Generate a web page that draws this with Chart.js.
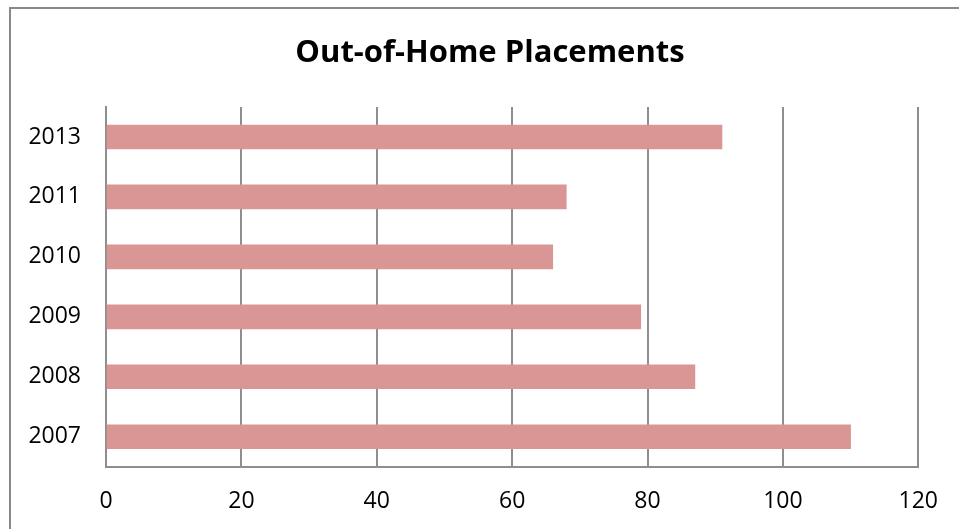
<!DOCTYPE html>
<html>
<head>
<meta charset="utf-8">
<script src="https://cdn.jsdelivr.net/npm/chart.js@4"></script>
<style>
  body { margin: 0; background: #fff; }
  #wrap { position: relative; width: 959px; height: 529px; overflow: hidden; }
  #frame { position: absolute; left: 9px; top: 7px; width: 1100px; height: 700px; border: 2px solid #898989; }
  #myChart { position: absolute; left: 0; top: 0; }
</style>
</head>
<body>
<div id="wrap">
  <div id="frame"></div>
  <canvas id="myChart" width="959" height="529"></canvas>
</div>
<script>
"use strict";

// years, oldest first (Excel draws first category at the bottom)
const years = ["2007", "2008", "2009", "2010", "2011", "2013"];
const placements = [110, 87, 79, 66, 68, 91];
const xTicks = [0, 20, 40, 60, 80, 100, 120];
const chartTitle = "Out-of-Home Placements";

const gridGray = "#8e8e8e";
const font = "'Open Sans', Lato, sans-serif";

// title is centred on the whole frame, not on the plot, so draw it by hand
const titlePlugin = {
  id: "frameTitle",
  afterDraw(chart) {
    const c = chart.ctx;
    c.save();
    c.fillStyle = "#000";
    c.font = "bold 31px " + font;
    c.textAlign = "center";
    c.textBaseline = "middle";
    c.fillText(chartTitle, 490, 53);
    c.restore();
  },
};

const data1 = {
  labels: years,
  datasets: [{
    label: chartTitle,
    data: placements,
    backgroundColor: "#D99694",
    borderWidth: 0,
    barThickness: 24,
  }],
};

const config = {
  type: "bar",
  data: data1,
  plugins: [titlePlugin],
  options: {
    indexAxis: "y",
    responsive: false,
    animation: false,
    layout: { padding: { left: 0, right: 39, top: 107, bottom: 0 } },
    plugins: {
      legend: { display: false },
      tooltip: { enabled: false },
      title: { display: false },
    },
    scales: {
      x: {
        min: xTicks[0],
        max: xTicks[xTicks.length - 1],
        afterBuildTicks: (axis) => { axis.ticks = xTicks.map(v => ({ value: v })); },
        afterFit: (axis) => { axis.height = 62.3; },
        grid: { display: true, color: gridGray, lineWidth: 2, drawTicks: false },
        border: { display: true, color: gridGray, width: 2 },
        ticks: { color: "#000", padding: 21, font: { family: font, size: 23 } },
      },
      y: {
        reverse: true,
        afterFit: (axis) => { axis.width = 106; },
        grid: { display: false, drawTicks: false },
        border: { display: true, color: gridGray, width: 2 },
        ticks: { color: "#000", padding: 25, font: { family: font, size: 23 } },
      },
    },
  },
};

const ctx = document.getElementById("myChart").getContext("2d");
new Chart(ctx, config);
</script>
</body>
</html>
